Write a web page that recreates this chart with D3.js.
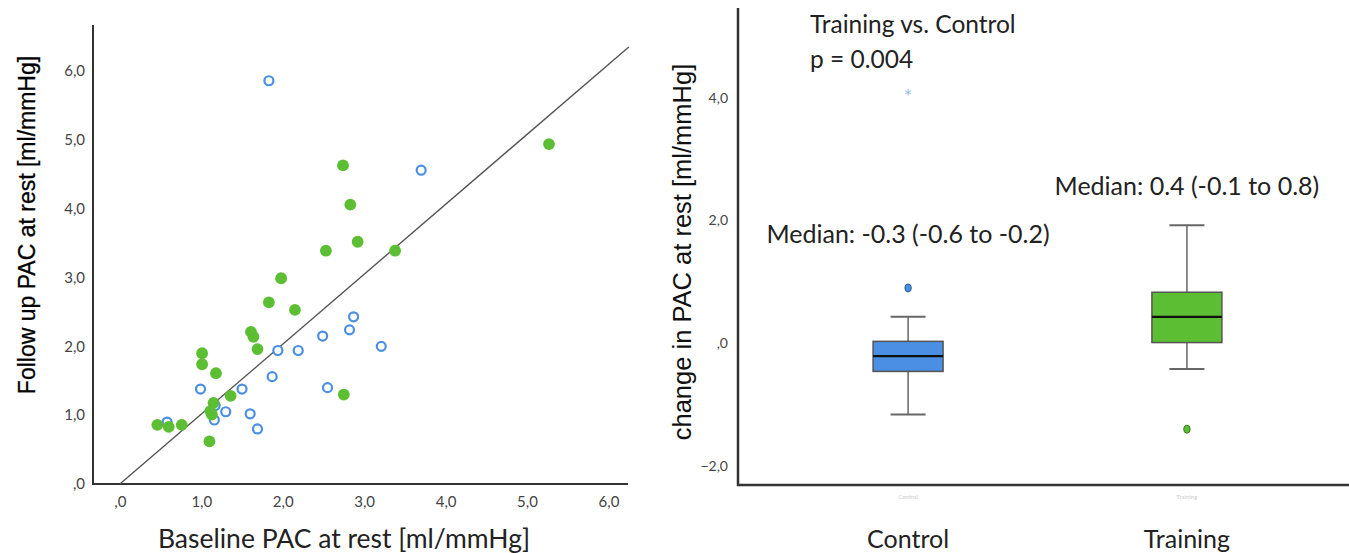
<!DOCTYPE html>
<html>
<head>
<meta charset="utf-8">
<script src="https://cdn.jsdelivr.net/npm/d3@7"></script>
<style>
  body { margin: 0; background: #fff; }
  svg { display: block; }
  .tick text { fill: #444; }
</style>
</head>
<body>
<svg id="chart" width="1349" height="553"></svg>
<script>
// --- Data: left scatter (baseline vs follow up PAC) ---
const controlBaseline = [1.83, 3.70, 2.87, 2.82, 2.49, 3.21, 1.94, 2.19, 1.87, 0.99, 1.50, 2.55, 1.17, 1.30, 1.60, 1.16, 0.58, 1.69];
const controlFollowUp = [5.86, 4.56, 2.43, 2.24, 2.15, 2.00, 1.94, 1.94, 1.56, 1.38, 1.38, 1.40, 1.14, 1.05, 1.02, 0.93, 0.90, 0.80];
const trainingBaseline = [5.27, 2.74, 2.83, 2.92, 2.53, 3.38, 1.98, 1.83, 2.15, 1.61, 1.64, 1.69, 1.01, 1.01, 1.18, 1.36, 1.15, 1.11, 1.13, 2.75, 0.46, 0.60, 0.76, 1.10];
const trainingFollowUp = [4.94, 4.63, 4.06, 3.52, 3.39, 3.39, 2.99, 2.64, 2.53, 2.21, 2.14, 1.96, 1.90, 1.74, 1.61, 1.28, 1.18, 1.06, 1.01, 1.30, 0.86, 0.83, 0.86, 0.62];
const refLine = [[0, 0], [6.25, 6.35]]; // reference line y = x

const scatterTicks = [0, 1, 2, 3, 4, 5, 6];

// --- Data: right boxplot (change in PAC) ---
const groups = ["Control", "Training"];
const boxMedian = [-0.21, 0.43];
const boxQ1 = [-0.46, 0.01];
const boxQ3 = [0.03, 0.83];
const whiskerLow = [-1.16, -0.42];
const whiskerHigh = [0.43, 1.92];
const outliers = [[0.90], [-1.40]];
const extremes = [[4.07], []];
const boxTicks = [-2, 0, 2, 4];
const medianLabels = ["Median: -0.3 (-0.6 to -0.2)", "Median: 0.4 (-0.1 to 0.8)"];
const medianLabelY = [1.64, 2.41];

const BLUE = "#4a8fe3";
const GREEN = "#5cbf33";
const calibri = "Lato, 'Open Sans', sans-serif";

const fmt = v => v === 0 ? ",0" : d3.format(".1f")(v).replace(".", ",");

const svg = d3.select("#chart");

// ================= Left: scatter =================
const x = d3.scaleLinear().domain([-0.33, 6.24]).range([93, 628]);
const y = d3.scaleLinear().domain([0, 6.67]).range([484, 25]);

const left = svg.append("g");

left.append("g")
    .attr("transform", `translate(0,${y(0)})`)
    .call(d3.axisBottom(x).tickValues(scatterTicks).tickFormat(fmt).tickSize(0).tickPadding(12))
    .call(g => g.select(".domain").remove())
    .selectAll("text").style("font", `15px ${calibri}`);

left.append("g")
    .attr("transform", `translate(${x.range()[0]},0)`)
    .call(d3.axisLeft(y).tickValues(scatterTicks).tickFormat(fmt).tickSize(0).tickPadding(8))
    .call(g => g.select(".domain").remove())
    .selectAll("text").style("font", `15px ${calibri}`);

// axis frame lines
left.append("path")
    .attr("d", `M${x.range()[0]},${y.range()[1]}V${y(0)}H${x.range()[1]}`)
    .attr("fill", "none").attr("stroke", "#333").attr("stroke-width", 2);

left.append("line")
    .attr("x1", x(refLine[0][0])).attr("y1", y(refLine[0][1]))
    .attr("x2", x(refLine[1][0])).attr("y2", y(refLine[1][1]))
    .attr("stroke", "#555").attr("stroke-width", 1.4);

left.append("g").selectAll("circle")
    .data(controlBaseline.map((b, i) => [b, controlFollowUp[i]]))
    .join("circle")
    .attr("cx", d => x(d[0])).attr("cy", d => y(d[1])).attr("r", 4.5)
    .attr("fill", "#fff").attr("stroke", BLUE).attr("stroke-width", 2.2);

left.append("g").selectAll("circle")
    .data(trainingBaseline.map((b, i) => [b, trainingFollowUp[i]]))
    .join("circle")
    .attr("cx", d => x(d[0])).attr("cy", d => y(d[1])).attr("r", 5.9)
    .attr("fill", GREEN);

left.append("text")
    .attr("x", 344).attr("y", 548)
    .attr("text-anchor", "middle")
    .style("font", `26.5px ${calibri}`).attr("fill", "#222")
    .text("Baseline PAC at rest [ml/mmHg]");

left.append("text")
    .attr("transform", "translate(35,225) rotate(-90)")
    .attr("text-anchor", "middle")
    .style("font", "500 23px 'Liberation Sans', Arial, sans-serif").attr("fill", "#000")
    .style("stroke", "#000").style("stroke-width", 0.3)
    .text("Follow up PAC at rest [ml/mmHg]");

// ================= Right: boxplot =================
const bx = d3.scalePoint().domain(groups).range([738, 1357]).padding(0.61);
const by = d3.scaleLinear().domain([-2.31, 5.46]).range([485, 8]);
const boxW = 70, capW = 35;

const right = svg.append("g");

right.append("g")
    .attr("transform", "translate(738,0)")
    .call(d3.axisLeft(by).tickValues(boxTicks).tickFormat(fmt).tickSize(0).tickPadding(10))
    .call(g => g.select(".domain").remove())
    .selectAll("text").style("font", `14px ${calibri}`).attr("fill", "#555");

right.append("path")
    .attr("d", `M738,${by.range()[1]}V${by.range()[0]}H1349`)
    .attr("fill", "none").attr("stroke", "#333").attr("stroke-width", 2.5);

const boxes = right.selectAll("g.box")
    .data(groups.map((g, i) => ({ g, i })))
    .join("g").attr("class", "box")
    .attr("transform", d => `translate(${bx(d.g)},0)`);

boxes.append("line")
    .attr("y1", d => by(whiskerHigh[d.i])).attr("y2", d => by(whiskerLow[d.i]))
    .attr("stroke", "#666").attr("stroke-width", 1.5);
boxes.selectAll("line.cap")
    .data(d => [whiskerHigh[d.i], whiskerLow[d.i]])
    .join("line").attr("class", "cap")
    .attr("x1", -capW / 2).attr("x2", capW / 2)
    .attr("y1", v => by(v)).attr("y2", v => by(v))
    .attr("stroke", "#666").attr("stroke-width", 2);
boxes.append("rect")
    .attr("x", -boxW / 2).attr("width", boxW)
    .attr("y", d => by(boxQ3[d.i]))
    .attr("height", d => by(boxQ1[d.i]) - by(boxQ3[d.i]))
    .attr("fill", d => d.i === 0 ? BLUE : GREEN)
    .attr("stroke", "#555").attr("stroke-width", 1.5);
boxes.append("line")
    .attr("x1", -boxW / 2).attr("x2", boxW / 2)
    .attr("y1", d => by(boxMedian[d.i])).attr("y2", d => by(boxMedian[d.i]))
    .attr("stroke", "#111").attr("stroke-width", 2.2);
boxes.selectAll("ellipse")
    .data(d => outliers[d.i].map(v => ({ v, i: d.i })))
    .join("ellipse")
    .attr("cy", d => by(d.v)).attr("rx", 3.2).attr("ry", 4)
    .attr("fill", d => d.i === 0 ? BLUE : GREEN)
    .attr("stroke", d => d.i === 0 ? "#2b5a99" : "#3a7a1f").attr("stroke-width", 1);
boxes.selectAll("text.star")
    .data(d => extremes[d.i])
    .join("text").attr("class", "star")
    .attr("y", v => by(v) + 6).attr("text-anchor", "middle")
    .style("font", "14px 'DejaVu Sans', sans-serif").attr("fill", "#8ab8f0")
    .text("*");

// faint category tick text under the axis
boxes.append("text")
    .attr("y", 499).attr("text-anchor", "middle")
    .style("font", `6px ${calibri}`).attr("fill", "#ccc")
    .text(d => d.g);

boxes.append("text")
    .attr("y", 548).attr("text-anchor", "middle")
    .style("font", `25px ${calibri}`).attr("fill", "#222")
    .text(d => d.g);

boxes.append("text")
    .attr("y", d => by(medianLabelY[d.i])).attr("text-anchor", "middle")
    .style("font", `25px ${calibri}`).attr("fill", "#222")
    .text(d => medianLabels[d.i]);

right.append("text")
    .attr("x", 810).attr("y", 33)
    .style("font", `24.5px ${calibri}`).attr("fill", "#222")
    .text("Training vs. Control");
right.append("text")
    .attr("x", 810).attr("y", 68)
    .style("font", `24.5px ${calibri}`).attr("fill", "#222")
    .text("p = 0.004");

right.append("text")
    .attr("transform", "translate(691,252) rotate(-90)")
    .attr("text-anchor", "middle")
    .style("font", "25.5px 'Liberation Sans', Arial, sans-serif").attr("fill", "#111")
    .text("change in PAC at rest [ml/mmHg]");
</script>
</body>
</html>
